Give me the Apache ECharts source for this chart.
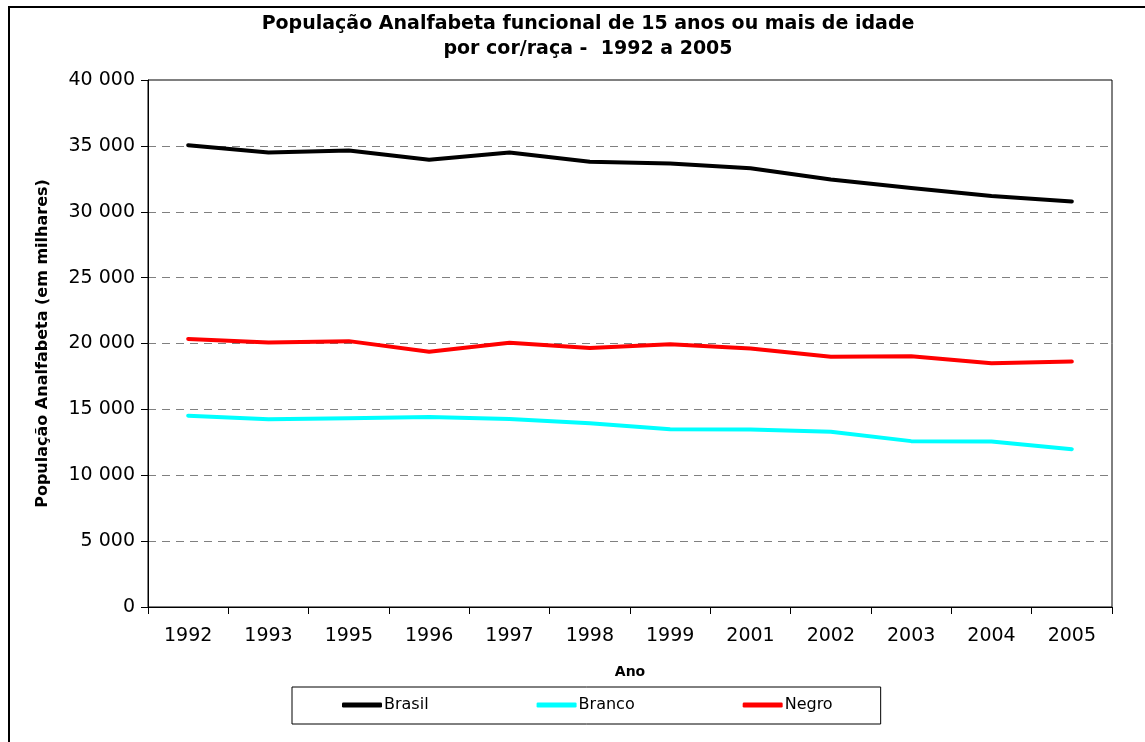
<!DOCTYPE html>
<html>
<head>
<meta charset="utf-8">
<script src="https://cdn.jsdelivr.net/npm/echarts@6/dist/echarts.min.js"></script>
<style>
  html, body { margin: 0; padding: 0; background: #fff; }
  #wrap { position: relative; width: 1145px; height: 742px; overflow: hidden; }
  #chart { position: absolute; left: 0; top: 0; width: 1145px; height: 742px; }
  #frame { position: absolute; left: 8px; top: 6px; width: 1145px; height: 742px; box-sizing: border-box;
           border-left: 2px solid #000; border-top: 2px solid #000; pointer-events: none; }
</style>
</head>
<body>
<div id="wrap">
  <div id="chart"></div>
  <div id="frame"></div>
</div>
<script>
// anos
var anos = ['1992', '1993', '1995', '1996', '1997', '1998', '1999', '2001', '2002', '2003', '2004', '2005']

// população analfabeta funcional (em milhares)
var brasil = [35050, 34500, 34650, 33950, 34500, 33800, 33670, 33300, 32450, 31800, 31200, 30780]
var branco = [14520, 14250, 14320, 14420, 14270, 13950, 13500, 13470, 13300, 12590, 12560, 11980]
var negro  = [20350, 20080, 20180, 19370, 20050, 19650, 19950, 19620, 18990, 19040, 18500, 18630]

var chart = echarts.init(document.getElementById('chart'))

function fmt(v) {
  return String(v).replace(/\B(?=(\d{3})+(?!\d))/g, ' ')
}

function linha(name, data, color) {
  return {
    name: name,
    type: 'line',
    data: data,
    showSymbol: false,
    symbol: 'none',
    smooth: false,
    animation: false,
    lineStyle: { color: color, width: 4, cap: 'round', join: 'round' },
    itemStyle: { color: color }
  }
}

chart.setOption({
  backgroundColor: '#fff',
  title: {
    text: 'População Analfabeta funcional de 15 anos ou mais de idade\npor cor/raça -  1992 a 2005',
    left: 583,
    textAlign: 'center',
    top: 7,
    textStyle: {
      fontFamily: 'DejaVu Sans',
      fontWeight: 'bold',
      fontSize: 19,
      lineHeight: 25,
      color: '#000'
    }
  },
  grid: {
    left: 148,
    right: 33,
    top: 80,
    bottom: 135,
    show: true,
    borderColor: '#000',
    borderWidth: 1,
    backgroundColor: 'transparent'
  },
  legend: {
    left: 292,
    top: 687,
    data: ['Brasil', 'Branco', 'Negro'],
    icon: 'roundRect',
    itemWidth: 40,
    itemHeight: 5,
    itemGap: 108,
    padding: [10, 48, 11, 50],
    borderColor: '#000',
    borderWidth: 1,
    textStyle: { fontFamily: 'DejaVu Sans', fontSize: 16, color: '#000', padding: [0, 0, 0, -3] }
  },
  xAxis: {
    type: 'category',
    data: anos,
    boundaryGap: true,
    name: 'Ano',
    nameLocation: 'middle',
    nameGap: 58,
    nameTextStyle: { fontFamily: 'DejaVu Sans', fontWeight: 'bold', fontSize: 14, color: '#000' },
    axisLine: { lineStyle: { color: '#000', width: 1 } },
    axisTick: { show: true, length: 7, lineStyle: { color: '#000' } },
    axisLabel: { margin: 20, fontFamily: 'DejaVu Sans', fontSize: 19, color: '#000', interval: 0 },
    splitLine: { show: false }
  },
  yAxis: {
    type: 'value',
    min: 0,
    max: 40000,
    interval: 5000,
    name: 'População Analfabeta (em milhares)',
    nameLocation: 'middle',
    nameGap: 97,
    nameTextStyle: { fontFamily: 'DejaVu Sans', fontWeight: 'bold', fontSize: 16, color: '#000' },
    axisLine: { show: true, lineStyle: { color: '#000', width: 1 } },
    axisTick: { show: true, length: 7, lineStyle: { color: '#000' } },
    axisLabel: { margin: 13, fontFamily: 'DejaVu Sans', fontSize: 19, color: '#000', formatter: fmt },
    splitLine: { show: true, lineStyle: { color: '#808080', type: [8, 6], width: 1 } }
  },
  series: [
    linha('Brasil', brasil, '#000000'),
    linha('Branco', branco, '#00FFFF'),
    linha('Negro', negro, '#FF0000')
  ]
})
</script>
</body>
</html>
